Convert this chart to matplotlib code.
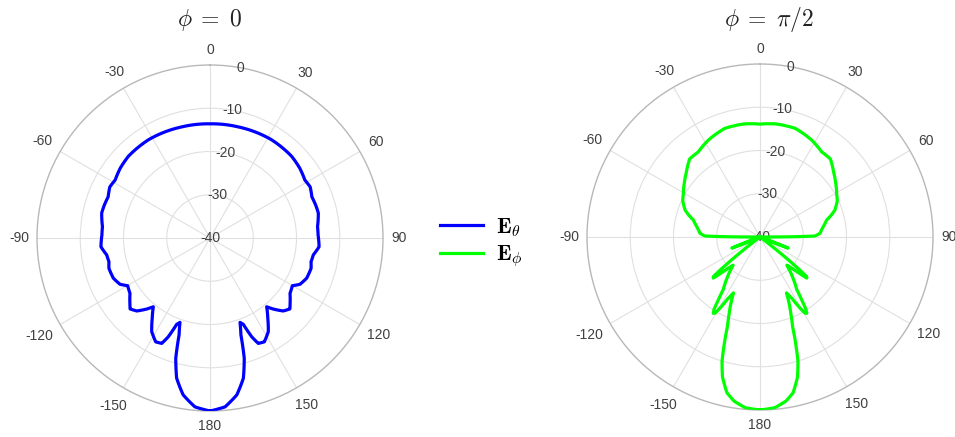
import numpy as np
import matplotlib
matplotlib.use('Agg')
import matplotlib.pyplot as plt

plt.rcParams['font.family'] = ['Liberation Sans', 'DejaVu Sans']
plt.rcParams['mathtext.fontset'] = 'cm'

# far-field cuts, one half (0..180 deg), the other half is the mirror image
theta_e_theta = [0, 14, 32, 45, 52, 58.6, 63, 68, 73, 77, 81, 84, 88.4, 94.6, 99.3,
                 103.2, 106.7, 112.6, 117.2, 120.1, 124.7, 129.2, 131.6, 134.9, 138.3,
                 140.5, 144.3, 148.1, 152.4, 155.4, 157.1, 158.9, 160.4, 162.3, 164.1,
                 166.6, 170.3, 174.9, 180]
db_e_theta = [-13.6, -13.5, -13.2, -13.3, -13.7, -14.3, -14.0, -14.6, -14.4, -14.3,
              -14.7, -15.0, -15.0, -14.7, -15.8, -16.0, -15.6, -15.8, -16.6, -18.0,
              -17.5, -16.1, -15.3, -16.1, -18.0, -19.4, -17.1, -14.5, -12.9, -13.2,
              -15.2, -18.6, -19.3, -16.5, -11.1, -6.7, -3.2, -0.8, 0]

theta_e_phi = [0, 8, 18, 28, 36, 42, 49, 55, 60.3, 65, 70.2, 73, 75.7, 78, 80.8, 83.5,
               86.5, 89, 89.6, 90.2, 109, 110.5, 111.5, 112.5, 114, 127, 129, 129.8,
               130.4, 131.3, 132.6, 134.5, 136.4, 141, 145, 146.5, 147.5, 148.5, 149.5,
               150.5, 152.5, 154.6, 156.5, 158, 160, 161.5, 163, 165, 168, 171, 175, 180]
db_e_phi = [-13.9, -13.6, -13.6, -14.6, -15.7, -15.7, -17.4, -18.6, -19.6, -20.3, -21.6,
            -22.8, -24.1, -24.6, -25.2, -25.7, -26.1, -27.3, -33, -40, -40, -36, -33,
            -36, -40, -40, -31, -27.5, -25.8, -25.6, -27.5, -29.8, -31, -28, -25.2,
            -22.5, -20.3, -19.3, -19.6, -21, -24, -25.7, -23, -21, -18, -14, -10,
            -6.5, -3.2, -1.6, -0.4, 0]

angle_ticks = list(range(0, 360, 30))
r_ticks = [-40, -30, -20, -10, 0]


def mirror(theta, db):
    t = np.asarray(theta, dtype=float)
    d = np.asarray(db, dtype=float)
    return np.deg2rad(np.concatenate([-t[::-1], t[1:]])), np.concatenate([d[::-1], d[1:]])


W, H = 955, 437
fig = plt.figure(figsize=(W / 100, H / 100), dpi=100)
renderer = fig.canvas.get_renderer()


def make_polar(cx, cy, R):
    ax = fig.add_axes([(cx - R) / W, (H - cy - R) / H, 2 * R / W, 2 * R / H],
                      projection='polar')
    ax.set_theta_zero_location('N')
    ax.set_theta_direction(-1)
    ax.set_rlim(-40, 0)
    ax.set_xticks(np.deg2rad(angle_ticks))
    ax.set_xticklabels([])
    ax.set_yticks([-30, -20, -10])
    ax.set_yticklabels([])
    ax.tick_params(length=0)
    ax.grid(True, color='#e0e0e0', lw=0.8)
    ax.spines['polar'].set_edgecolor('#b8b8b8')
    ax.spines['polar'].set_linewidth(1.0)

    for d in angle_ticks:
        lab = str(d if d <= 180 else d - 360)
        t = ax.annotate(lab, xy=(np.deg2rad(d), 0), xytext=(0, 0),
                        textcoords='offset pixels', ha='center', va='center',
                        fontsize=10, color='#404040', annotation_clip=False)
        bb = t.get_window_extent(renderer)
        s, c = np.sin(np.deg2rad(d)), np.cos(np.deg2rad(d))
        off = 8 + 0.5 * bb.width * abs(s) + 0.5 * bb.height * abs(c)
        t.xyann = (off * s, off * c)

    for r in r_ticks:
        ax.text(np.deg2rad(10), r, str(r), ha='center', va='center',
                fontsize=10, color='#404040')
    return ax


ax1 = make_polar(210, 238, 173)
ax2 = make_polar(760, 237, 173)

th, db = mirror(theta_e_theta, db_e_theta)
l1, = ax1.plot(th, db, color='#0000ff', lw=2.3, zorder=4)
th, db = mirror(theta_e_phi, db_e_phi)
l2, = ax2.plot(th, db, color='#00ff00', lw=2.3, zorder=4)
# follow the polar grid between samples instead of straight chords
for ln in (l1, l2):
    ln.get_path()._interpolation_steps = 40

fig.text(210 / W, 1 - 20 / H, r'$\phi \;=\; 0$', ha='center', va='center',
         fontsize=17, color='#222222')
fig.text(769 / W, 1 - 20 / H, r'$\phi \;=\; \pi/2$', ha='center', va='center',
         fontsize=17, color='#222222')

fig.legend([l1, l2], [r'$\mathbf{E}_\theta$', r'$\mathbf{E}_\phi$'], loc='center',
           bbox_to_anchor=(0.504, 0.445), frameon=False, fontsize=16,
           handlelength=1.95, handletextpad=0.6, labelspacing=0.2)

fig.savefig('out.png', dpi=100)
